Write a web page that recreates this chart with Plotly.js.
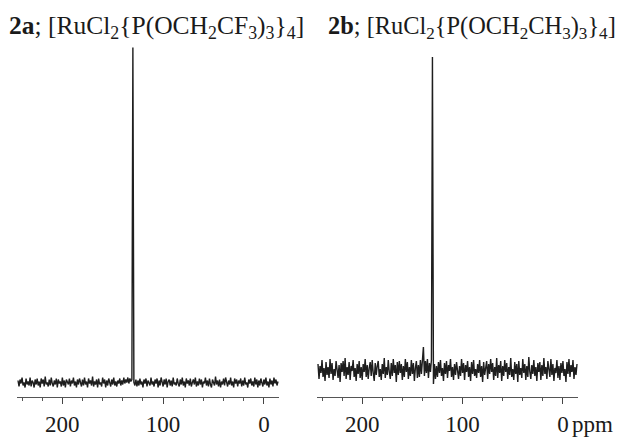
<!DOCTYPE html>
<html>
<head>
<meta charset="utf-8">
<script src="https://cdn.plot.ly/plotly-3.0.1.min.js"></script>
<style>html,body{margin:0;padding:0;background:#fff;}#chart{width:617px;height:437px;}</style>
</head>
<body>
<div id="chart"></div>
<script>
// Chemical shift sampling (ppm), one sample per ppm from 244 down to -14
var ppmStart = 244;
var ppmStep = 1;

// Panel 2a: signal intensities (baseline noise + singlet near 130 ppm)
var intensityA = [
  2,-4,3,-1,5,-3,0,-5,4,-2,1,-3,5,-4,2,0,-5,3,-2,4,
  -3,1,-5,4,-1,3,-4,6,-2,0,-4,3,-3,5,-1,-4,2,-2,4,-5,
  3,-1,1,-4,5,-3,2,-5,3,0,-2,4,-4,2,-1,5,-3,1,-5,3,
  -2,4,-1,-4,3,-3,5,-2,1,-5,4,-1,2,-3,6,-4,1,-2,3,-5,
  4,-2,0,-4,5,-1,3,-5,2,-3,4,0,-4,3,-2,5,-3,1,-4,2,
  -1,4,-3,2,-2,5,-1,3,0,5,-1,4,1,3,335,0,-3,3,-4,2,
  -3,4,-2,1,-5,3,-1,4,-4,2,0,-3,5,-2,1,-4,3,-1,4,-5,
  2,-3,5,-1,-4,3,-2,4,-5,1,3,-3,2,-4,5,-2,0,-3,4,-1,
  -4,3,-2,5,-3,1,-5,4,-1,2,-3,4,-4,0,3,-2,5,-4,1,-3,
  4,-2,3,-5,1,-1,5,-3,2,-4,4,-2,-5,3,0,-3,6,-2,2,-4,
  3,-5,1,-2,4,-3,5,-1,-4,2,-2,5,-3,1,-5,4,-1,3,-4,2,
  -1,4,-4,2,-3,5,-2,0,-5,3,-1,4,-3,1,-4,5,-2,3,-5,2,
  -3,4,-1,-4,3,-2,5,-3,1,-5,4,-2,2,-4,5,-1,3,-3,1
];

// Panel 2b: signal intensities (noisier baseline + singlet near 130 ppm)
var intensityB = [
  6,-9,4,-3,10,-7,2,-11,8,-5,3,-8,11,-4,7,-10,1,-6,9,-3,
  -8,5,-12,7,-2,9,-6,12,-9,3,-5,8,-10,4,-1,10,-7,2,-11,6,
  -4,9,-8,3,-10,6,-2,11,-7,5,-9,2,8,-6,10,-3,-11,7,-5,4,
  9,-7,1,-10,6,-4,12,-8,3,-5,10,-2,-9,7,-6,11,-3,5,-12,8,
  -5,9,-3,6,-10,4,-7,11,-2,8,-9,3,-6,10,-4,7,-11,2,9,-8,
  5,-7,10,-4,12,23,-6,9,-3,11,-8,7,-2,10,313,-14,6,-9,4,-7,
  8,-3,10,-6,2,-11,7,-4,9,-8,5,-1,11,-7,3,-10,6,-5,8,-2,
  -9,4,-6,11,-3,7,-10,5,-2,9,-7,3,-11,8,-4,10,-6,1,-8,6,
  -3,10,-7,4,-12,8,-5,2,9,-9,6,-4,11,-2,7,-10,3,-6,12,-8,
  5,-3,9,-11,4,-6,10,-2,7,-9,3,-5,12,-7,1,-10,8,-4,6,-12,
  9,-5,2,-8,11,-3,6,-10,4,-7,13,-2,-9,5,-4,10,-6,3,-11,7,
  -2,8,-10,5,-6,12,-4,3,-9,9,-1,-7,11,-5,6,-11,2,-3,10,-8,
  4,-10,7,-3,9,-6,1,-12,8,-4,11,-7,5,-2,10,-9,3,-5,6
];

var tickValues = [200, 100, 0];
var tickLabels = ['200', '100', '0'];
var titleA = '<b>2a</b>; [RuCl<sub>2</sub>{P(OCH<sub>2</sub>CF<sub>3</sub>)<sub>3</sub>}<sub>4</sub>]';
var titleB = '<b>2b</b>; [RuCl<sub>2</sub>{P(OCH<sub>2</sub>CH<sub>3</sub>)<sub>3</sub>}<sub>4</sub>]';
var unitLabel = 'ppm';

function ppmAxis(n) {
  var out = [];
  for (var i = 0; i < n; i++) out.push(ppmStart - i * ppmStep);
  return out;
}

var serif = '"Liberation Serif", "Times New Roman", serif';
var lineCol = '#1e1e1e';

var traces = [
  {x: ppmAxis(intensityA.length), y: intensityA, type: 'scatter', mode: 'lines',
   line: {color: lineCol, width: 1.4}, xaxis: 'x', yaxis: 'y', hoverinfo: 'skip'},
  {x: ppmAxis(intensityB.length), y: intensityB, type: 'scatter', mode: 'lines',
   line: {color: lineCol, width: 1.4}, xaxis: 'x2', yaxis: 'y2', hoverinfo: 'skip'}
];

function xAx(domain, anchor) {
  return {
    domain: domain, anchor: anchor, range: [245, -15],
    showline: true, linecolor: '#555', linewidth: 1,
    ticks: 'outside', ticklen: 6, tickwidth: 1, tickcolor: '#444',
    tickmode: 'array', tickvals: tickValues, ticktext: tickLabels,
    minor: {tickmode: 'linear', tick0: 0, dtick: 20, ticks: 'outside', ticklen: 3, tickwidth: 1, tickcolor: '#555', showgrid: false},
    showgrid: false, zeroline: false,
    tickfont: {family: serif, size: 23, color: '#1a1a1a'},
    ticklabelstandoff: 0
  };
}

var layout = {
  width: 617, height: 437,
  margin: {l: 0, r: 0, t: 0, b: 0},
  paper_bgcolor: '#fff', plot_bgcolor: '#fff',
  showlegend: false,
  xaxis: xAx([17/617, 279/617], 'y'),
  xaxis2: xAx([317/617, 578/617], 'y2'),
  yaxis: {domain: [40/437, 1], range: [-14.5, 382.5], visible: false, fixedrange: true},
  yaxis2: {domain: [40/437, 1], range: [-27, 370], visible: false, fixedrange: true},
  annotations: [
    {text: titleA, xref: 'paper', yref: 'paper', x: 7/617, y: 1 - 27/437, xanchor: 'left', yanchor: 'middle',
     showarrow: false, font: {family: serif, size: 25.5, color: '#1a1a1a'}},
    {text: titleB, xref: 'paper', yref: 'paper', x: 326/617, y: 1 - 27/437, xanchor: 'left', yanchor: 'middle',
     showarrow: false, font: {family: serif, size: 24.4, color: '#1a1a1a'}},
    {text: unitLabel, xref: 'paper', yref: 'paper', x: 570/617, y: 1 - 424/437, xanchor: 'left', yanchor: 'middle',
     showarrow: false, font: {family: serif, size: 23, color: '#1a1a1a'}}
  ]
};

Plotly.newPlot('chart', traces, layout, {staticPlot: true, displayModeBar: false});
</script>
</body>
</html>
